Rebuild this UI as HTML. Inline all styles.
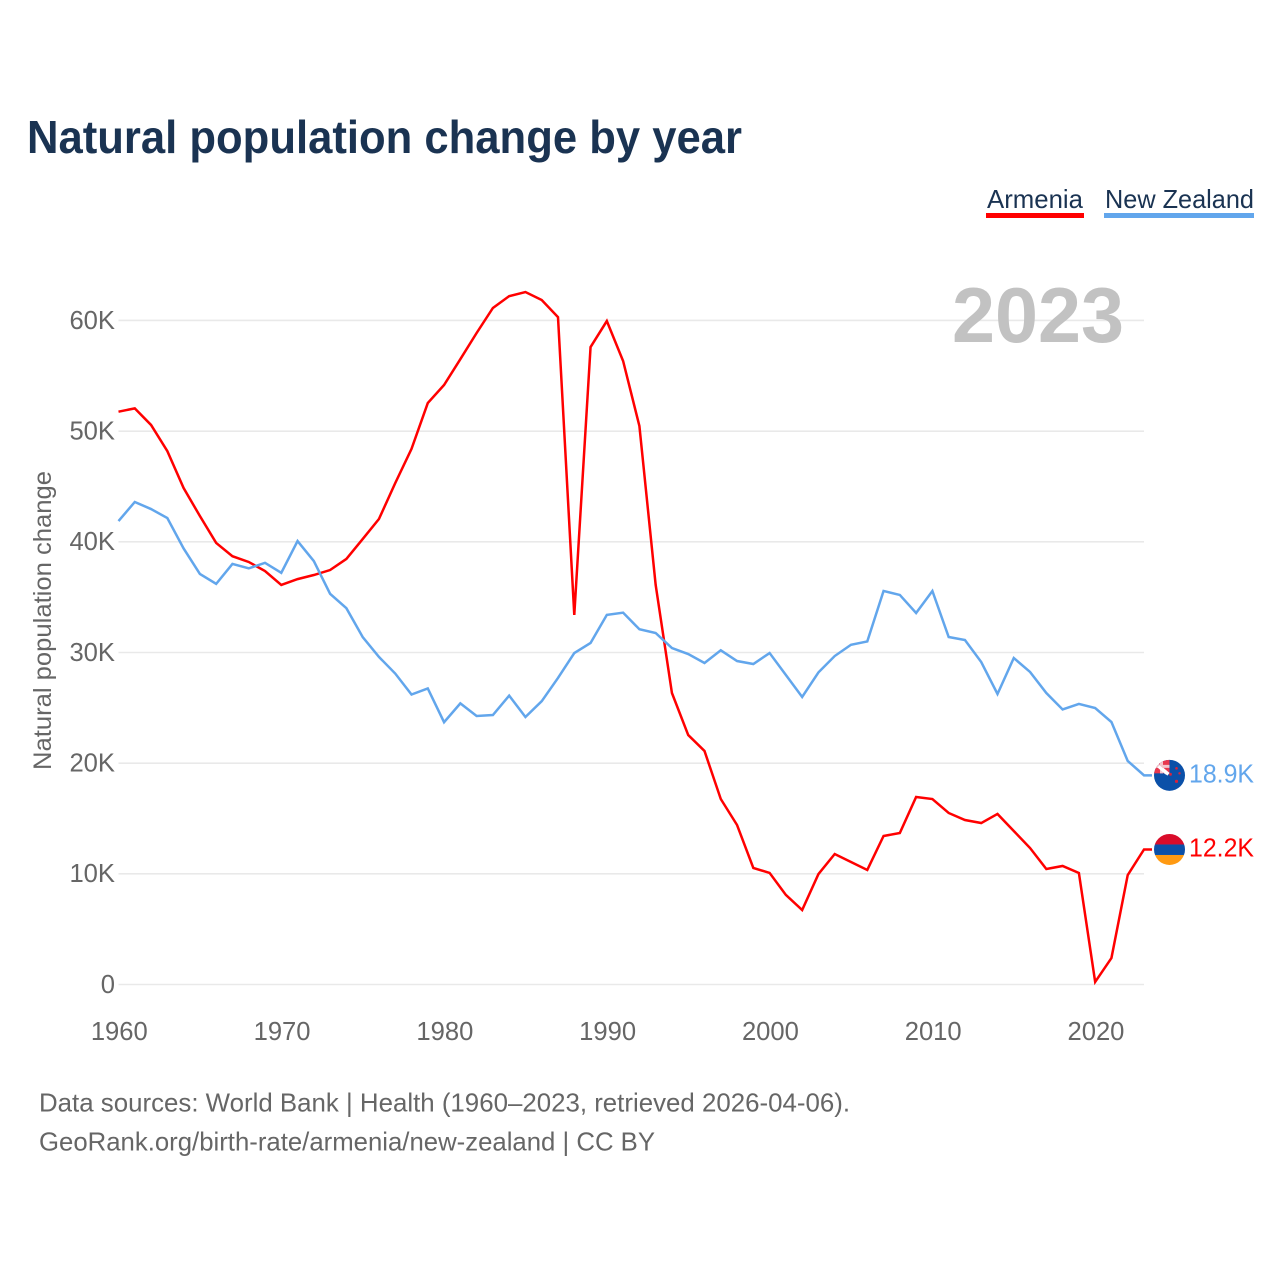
<!DOCTYPE html>
<html lang="en">
<head>
<meta charset="utf-8">
<title>Natural population change by year</title>
<style>
html,body{margin:0;padding:0;background:#fff;}
svg{display:block;}
text{font-family:"Liberation Sans",sans-serif;}
</style>
</head>
<body>
<svg id="chart" xmlns="http://www.w3.org/2000/svg" width="1280" height="1280" viewBox="0 0 1280 1280">
  <rect width="1280" height="1280" fill="#ffffff"/>
  <defs>
    <clipPath id="nz-clip"><rect x="-15.5" y="-15.5" width="31" height="31" rx="15.5"/></clipPath>
    <clipPath id="am-clip"><rect x="-15.5" y="-15.5" width="31" height="31" rx="15.5"/></clipPath>
  </defs>
  <text x="27" y="153" font-size="46" font-weight="700" fill="#1a3352" textLength="715" lengthAdjust="spacingAndGlyphs">Natural population change by year</text>

  <g>
    <g>
      <text x="987" y="208" font-size="26" fill="#1a3352" textLength="96" lengthAdjust="spacingAndGlyphs">Armenia</text>
      <rect x="986" y="213" width="98" height="5" fill="#ff0000"/>
    </g>
    <g>
      <text x="1105" y="208" font-size="26" fill="#1a3352" textLength="149" lengthAdjust="spacingAndGlyphs">New Zealand</text>
      <rect x="1104" y="213" width="150" height="5" fill="#62a6ec"/>
    </g>
  </g>

  <g id="grid"></g>
  <text id="year-label" x="1124" y="342" font-size="78" font-weight="700" fill="#c2c2c2" text-anchor="end" textLength="172" lengthAdjust="spacingAndGlyphs"></text>
  <g id="y-axis"></g>
  <g id="x-axis"></g>
  <text transform="translate(51,770) rotate(-90)" font-size="25" fill="#666666" textLength="299" lengthAdjust="spacingAndGlyphs">Natural population change</text>
  <g id="series"></g>

  <g id="flag-nz">
    <g clip-path="url(#nz-clip)">
      <rect x="-16" y="-16" width="32" height="32" fill="#0b50a8"/>
      <rect x="-16" y="-16" width="16" height="14" fill="#e8384f"/>
      <path d="M-13,-11 L-1,-1" stroke="#ffffff" stroke-width="3.5"/>
      <path d="M-8,-16 V-2 M-16,-9 H0" stroke="#f4c4cc" stroke-width="3"/>
      <path d="M-11,-9 L-3,-2" stroke="#ffffff" stroke-width="3"/>
      <circle cx="1" cy="-1" r="1.4" fill="#d8233c"/>
      <circle cx="7" cy="-7" r="1.3" fill="#d8233c"/>
      <circle cx="10" cy="-2" r="1.2" fill="#d8233c"/>
      <circle cx="7" cy="6" r="1.6" fill="#d8233c"/>
    </g>
  </g>
  <g id="flag-am">
    <g clip-path="url(#am-clip)">
      <rect x="-16" y="-16" width="32" height="11" fill="#d90c2a"/>
      <rect x="-16" y="-5" width="32" height="10.5" fill="#0b50a8"/>
      <rect x="-16" y="5.5" width="32" height="11" fill="#ff9a12"/>
    </g>
  </g>
  <text id="value-nz" font-size="25.6" fill="#62a6ec" textLength="65" lengthAdjust="spacingAndGlyphs"></text>
  <text id="value-am" font-size="25.6" fill="#ff0000" textLength="65" lengthAdjust="spacingAndGlyphs"></text>

  <text x="39" y="1111.5" font-size="26" fill="#666666" textLength="811" lengthAdjust="spacingAndGlyphs">Data sources: World Bank | Health (1960–2023, retrieved 2026-04-06).</text>
  <text x="39" y="1150.5" font-size="26" fill="#666666" textLength="616" lengthAdjust="spacingAndGlyphs">GeoRank.org/birth-rate/armenia/new-zealand | CC BY</text>
</svg>

<script>
const firstYear = 1960;
const armeniaValues = [51.76,52.06,50.56,48.2,44.86,42.33,39.9,38.7,38.18,37.36,36.1,36.63,37.0,37.45,38.45,40.25,42.06,45.3,48.4,52.54,54.17,56.5,58.87,61.13,62.2,62.57,61.85,60.3,33.39,57.6,59.95,56.34,50.47,36.1,26.34,22.54,21.1,16.76,14.41,10.53,10.08,8.09,6.73,9.98,11.79,11.07,10.35,13.42,13.69,16.94,16.76,15.5,14.86,14.59,15.41,13.87,12.33,10.44,10.71,10.08,0.23,2.39,9.89,12.2];
const newZealandValues = [41.88,43.6,42.96,42.15,39.4,37.1,36.2,38.0,37.6,38.1,37.2,40.07,38.26,35.3,34.0,31.4,29.6,28.1,26.2,26.75,23.7,25.4,24.26,24.35,26.1,24.17,25.6,27.7,29.95,30.86,33.4,33.6,32.1,31.76,30.4,29.86,29.05,30.2,29.23,28.96,29.95,27.97,25.98,28.2,29.68,30.7,31.0,35.56,35.2,33.57,35.56,31.4,31.13,29.14,26.25,29.5,28.24,26.34,24.85,25.35,24.98,23.72,20.2,18.9];
const yTickValues = [0,10,20,30,40,50,60];
const xTickValues = [1960,1970,1980,1990,2000,2010,2020];

const SVG_NS = 'http://www.w3.org/2000/svg';
const plotLeft = 118.5, plotRight = 1144, yZero = 984.5, yPerK = 11.067;
const lastYear = firstYear + armeniaValues.length - 1;
function xScale(year){ return plotLeft + (year - firstYear) * (plotRight - plotLeft) / 63; }
function yScale(k){ return yZero - k * yPerK; }
function fmtK(k){ return k === 0 ? '0' : (Number.isInteger(k) ? k + 'K' : k.toFixed(1) + 'K'); }
function make(tag, attrs, parent){
  const el = document.createElementNS(SVG_NS, tag);
  for (const key in attrs) el.setAttribute(key, attrs[key]);
  parent.appendChild(el);
  return el;
}

const gridGroup = document.getElementById('grid');
const yAxisGroup = document.getElementById('y-axis');
yTickValues.forEach(function(v){
  const line = make('line', {x1: plotLeft, x2: plotRight, y1: yScale(v), y2: yScale(v), stroke: '#e9e9e9', 'stroke-width': 1.6}, gridGroup);
  
  
  const label = make('text', {x: 115, y: yScale(v) + 8.3, 'font-size': 25.6, fill: '#666666', 'text-anchor': 'end'}, yAxisGroup);
  
  
  label.textContent = fmtK(v);
});

const xAxisGroup = document.getElementById('x-axis');
xTickValues.forEach(function(year){
  const label = make('text', {x: xScale(year) + 0.8, y: 1040, 'font-size': 25.6, fill: '#666666', 'text-anchor': 'middle'}, xAxisGroup);
  
  
  label.textContent = String(year);
});

function linePoints(values){
  const pts = values.map(function(v, i){ return xScale(firstYear + i).toFixed(2) + ',' + yScale(v).toFixed(2); });
  pts.push('1152,' + yScale(values[values.length - 1]).toFixed(2));
  return pts.join(' ');
}
const seriesGroup = document.getElementById('series');
const armeniaLine = make('polyline', {points: linePoints(armeniaValues), fill: 'none', stroke: '#ff0000', 'stroke-width': 2.5, 'stroke-linejoin': 'miter'}, seriesGroup);


const nzLine = make('polyline', {points: linePoints(newZealandValues), fill: 'none', stroke: '#62a6ec', 'stroke-width': 2.5, 'stroke-linejoin': 'miter'}, seriesGroup);



const amLast = armeniaValues[armeniaValues.length - 1];
const nzLast = newZealandValues[newZealandValues.length - 1];
document.getElementById('year-label').textContent = String(lastYear);
document.getElementById('flag-nz').setAttribute('transform', 'translate(1169.5,' + yScale(nzLast) + ')');
document.getElementById('flag-am').setAttribute('transform', 'translate(1169.5,' + yScale(amLast) + ')');
const nzValue = document.getElementById('value-nz');
nzValue.setAttribute('x', 1189);
nzValue.setAttribute('y', yScale(nzLast) + 7);
nzValue.textContent = fmtK(nzLast);
const amValue = document.getElementById('value-am');
amValue.setAttribute('x', 1189);
amValue.setAttribute('y', yScale(amLast) + 7);
amValue.textContent = fmtK(amLast);
</script>
</body>
</html>
